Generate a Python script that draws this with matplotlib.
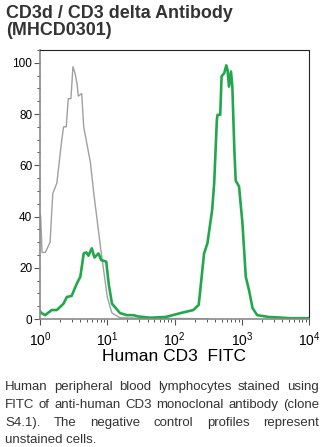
import numpy as np
import matplotlib
matplotlib.use('Agg')
import matplotlib.pyplot as plt
from matplotlib.ticker import LogLocator, MultipleLocator, FixedLocator

plt.rcParams['font.family'] = ['Liberation Sans', 'DejaVu Sans']
plt.rcParams['mathtext.fontset'] = 'custom'
plt.rcParams['mathtext.rm'] = 'Liberation Sans'
plt.rcParams['mathtext.it'] = 'Liberation Sans'

# log10 of fluorescence intensity, and % of max
gray_log = [0.0, 0.01, 0.03, 0.08, 0.15, 0.19, 0.25, 0.32, 0.35, 0.39, 0.42, 0.46,
            0.49, 0.52, 0.55, 0.57, 0.62, 0.65, 0.75, 0.80, 0.90, 1.0, 1.07, 1.19,
            1.5, 2.0, 2.5]
gray_val = [41, 40, 26, 26, 30, 49, 53, 69, 75, 75, 86, 86,
            98.5, 96, 92, 87, 88, 75, 61, 49, 28, 8.6, 2.3, 0.5,
            0.3, 0.2, 0.1]

green_log = [0.0, 0.025, 0.075, 0.175, 0.25, 0.35, 0.40, 0.47, 0.55, 0.60, 0.65,
             0.69, 0.72, 0.77, 0.81, 0.87, 0.91, 0.985, 1.02, 1.07, 1.19, 1.29,
             1.39, 1.46, 1.64, 1.87, 2.09, 2.28, 2.36, 2.44, 2.49, 2.56, 2.59,
             2.63, 2.64, 2.68, 2.70, 2.74, 2.77, 2.79, 2.81, 2.84, 2.86, 2.89,
             2.91, 2.96, 3.01, 3.06, 3.11, 3.16, 3.23, 3.40, 3.73, 4.0]
green_val = [3.0, 2.3, 1.5, 3.5, 3.5, 6, 8.6, 9, 14, 16.5, 25.6,
             26, 24.7, 27.6, 24, 25.6, 23, 22.4, 14, 6, 2.3, 1.5,
             1.5, 1.0, 0.5, 0.8, 2.3, 3.5, 5.5, 25.6, 29.6, 42.6, 53,
             77.7, 79.7, 79.7, 94.7, 96, 99, 97, 90.7, 96.6, 90.7, 66,
             54, 51.7, 37.5, 16.5, 11, 4.3, 1.5, 0.8, 0.3, 0.3]

title = "CD3d / CD3 delta Antibody\n(MHCD0301)"
xlabel = "Human CD3  FITC"
caption = [
    "Human peripheral blood lymphocytes stained using",
    "FITC of anti-human CD3 monoclonal antibody (clone",
    "S4.1).  The negative control profiles represent",
    "unstained cells.",
]

W, H = 324, 447
fig = plt.figure(figsize=(W / 100, H / 100), dpi=100)
ax = fig.add_axes([40 / W, 1 - 319 / H, 269 / W, 269 / H])

ax.plot(10 ** np.array(gray_log), gray_val, color='#a0a0a0', lw=1.0)
ax.plot(10 ** np.array(green_log), green_val, color='#22a84a', lw=1.9)

ax.set_xscale('log')
ax.set_xlim(1, 1e4)
ax.set_ylim(0, 105)
ax.yaxis.set_major_locator(FixedLocator([0, 20, 40, 60, 80, 100]))
ax.yaxis.set_minor_locator(MultipleLocator(5))
ax.xaxis.set_major_locator(LogLocator(base=10, numticks=10))
ax.xaxis.set_minor_locator(LogLocator(base=10, subs=np.arange(2, 10), numticks=10))

ax.tick_params(axis='both', which='major', direction='out', length=4, width=0.8,
               color='#555555', pad=1.5)
ax.tick_params(axis='both', which='minor', direction='out', length=2.5, width=0.7,
               color='#555555')
ax.tick_params(axis='y', labelsize=8.5)
ax.tick_params(axis='x', labelsize=10, pad=4)
for s in ['left', 'bottom']:
    ax.spines[s].set_color('#8a8a8a')
    ax.spines[s].set_linewidth(1.2)
for s in ['top', 'right']:
    ax.spines[s].set_color('#222222')
    ax.spines[s].set_linewidth(0.8)

ax.set_xlabel(xlabel, fontsize=12.5, labelpad=0)

fig.text(6 / W, 1 - 5 / H, title, fontsize=12.9, fontweight='bold', color='#333333',
         va='top', ha='left', linespacing=1.0)

# justified caption
renderer = fig.canvas.get_renderer()
left, right = 5, 319
baselines = [390, 408, 426, 443]
fs = 9.5
for i, line in enumerate(caption):
    words = line.split()
    y = 1 - baselines[i] / H
    if i == len(caption) - 1:
        fig.text(left / W, y, line, fontsize=fs, color='#333333', va='baseline')
        continue
    widths = []
    for w in words:
        t = fig.text(0, 0, w, fontsize=fs)
        widths.append(t.get_window_extent(renderer).width)
        t.remove()
    gap = (right - left - sum(widths)) / (len(words) - 1)
    x = left
    for w, wd in zip(words, widths):
        fig.text(x / W, y, w, fontsize=fs, color='#333333', va='baseline')
        x += wd + gap

fig.savefig('out.png', dpi=100)
